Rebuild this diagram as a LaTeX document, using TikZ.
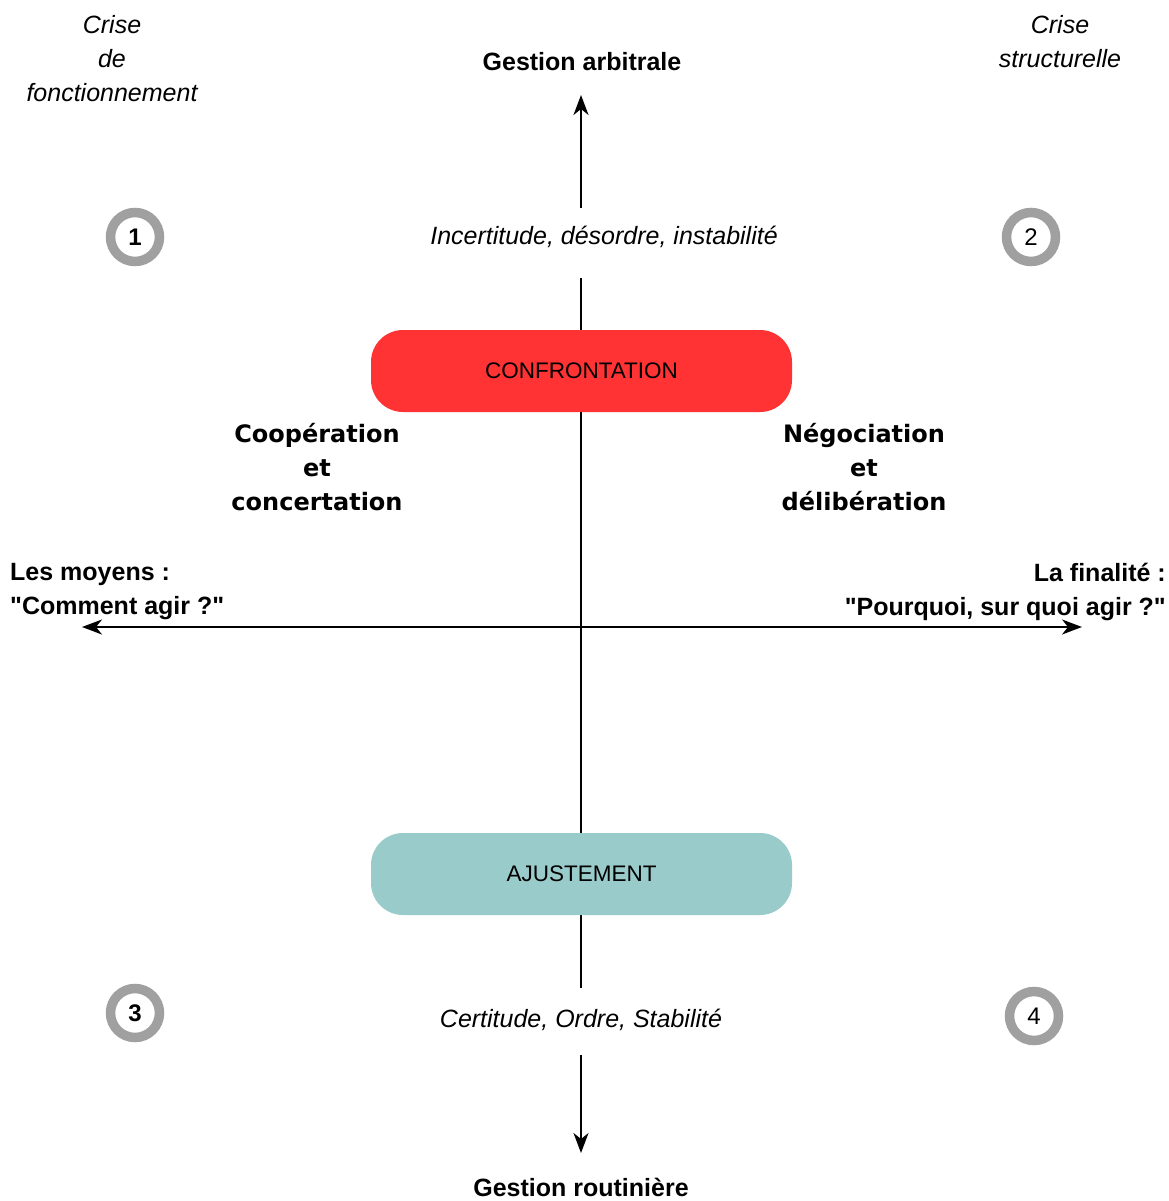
\documentclass[tikz,border=0pt]{standalone}
\usepackage{fontspec}
\setmainfont{Liberation Sans}[Ligatures=TeXOff]
\newfontfamily\dvb{DejaVu Sans}
\usetikzlibrary{arrows.meta}
\definecolor{confred}{HTML}{FF3333}
\definecolor{ajteal}{HTML}{9ACBCB}
\definecolor{ringgray}{HTML}{A0A0A0}
\begin{document}
\begin{tikzpicture}[x=1pt,y=-1pt,
  axis/.style={line width=2pt,black},
  arr/.style={axis,-{Stealth[length=20pt,width=15pt,inset=6pt]}},
  darr/.style={axis,{Stealth[length=20pt,width=15pt,inset=6pt]}-{Stealth[length=20pt,width=15pt,inset=6pt]}},
  boxst/.style={rounded corners=32pt,minimum width=421pt,minimum height=82pt,inner sep=0pt,font=\fontsize{22.5}{26}\selectfont},
  ring/.style={circle,draw=ringgray,line width=9.5pt,fill=white,minimum size=49pt,inner sep=0pt,font=\fontsize{24}{26}\selectfont},
  bt/.style={font=\fontsize{25}{34}\selectfont\bfseries,align=center,inner sep=0pt},
  it/.style={font=\fontsize{25}{34}\selectfont\itshape,align=center,inner sep=0pt},
  wb/.style={font=\fontsize{24}{34}\selectfont\dvb\bfseries,align=center,inner sep=0pt}]
\useasboundingbox[fill=white] (0,0) rectangle (1168,1201);
% coordinates of the axes
\coordinate (vtop) at (581,95);
\coordinate (va) at (581,208);
\coordinate (vb) at (581,278);
\coordinate (vc) at (581,988);
\coordinate (vd) at (581,1055);
\coordinate (vbot) at (581,1153);
\coordinate (hl) at (82,627);
\coordinate (hr) at (1082,627);
% axes
\draw[arr] (va) -- (vtop);
\draw[axis] (vb) -- (vc);
\draw[arr] (vd) -- (vbot);
\draw[darr] (hl) -- (hr);
% boxes
\node[boxst,fill=confred] (conf) at (581.5,371) {CONFRONTATION};
\node[boxst,fill=ajteal] (ajus) at (581.5,874) {AJUSTEMENT};
% texts
\node[bt] (ga) at (582,62) {Gestion arbitrale};
\node[bt] (gr) at (581,1187) {Gestion routinière};
\node[it] (inc) at (604,237) {Incertitude, désordre, instabilité};
\node[it] (cert) at (581,1020) {Certitude, Ordre, Stabilité};
\node[it] (crf) at (112,59) {Crise\\de\\fonctionnement};
\node[it] (crs) at (1060,42) {Crise\\structurelle};
\node[wb] (coop) at (317,467) {Coopération\\et\\concertation};
\node[wb] (nego) at (864,467) {Négociation\\et\\délibération};
\node[bt,align=left,anchor=west] (moy) at (10,592) {Les moyens :\\"Comment agir ?"};
\node[bt,align=right,anchor=east] (fin) at (1166,592) {La finalité :\\"Pourquoi, sur quoi agir ?"};
% numbered rings
\node[ring,font=\fontsize{24}{26}\selectfont\bfseries] (n1) at (135,237) {1};
\node[ring] (n2) at (1031,237) {2};
\node[ring,font=\fontsize{24}{26}\selectfont\bfseries] (n3) at (135,1013) {3};
\node[ring] (n4) at (1034,1016) {4};
\end{tikzpicture}
\end{document}
